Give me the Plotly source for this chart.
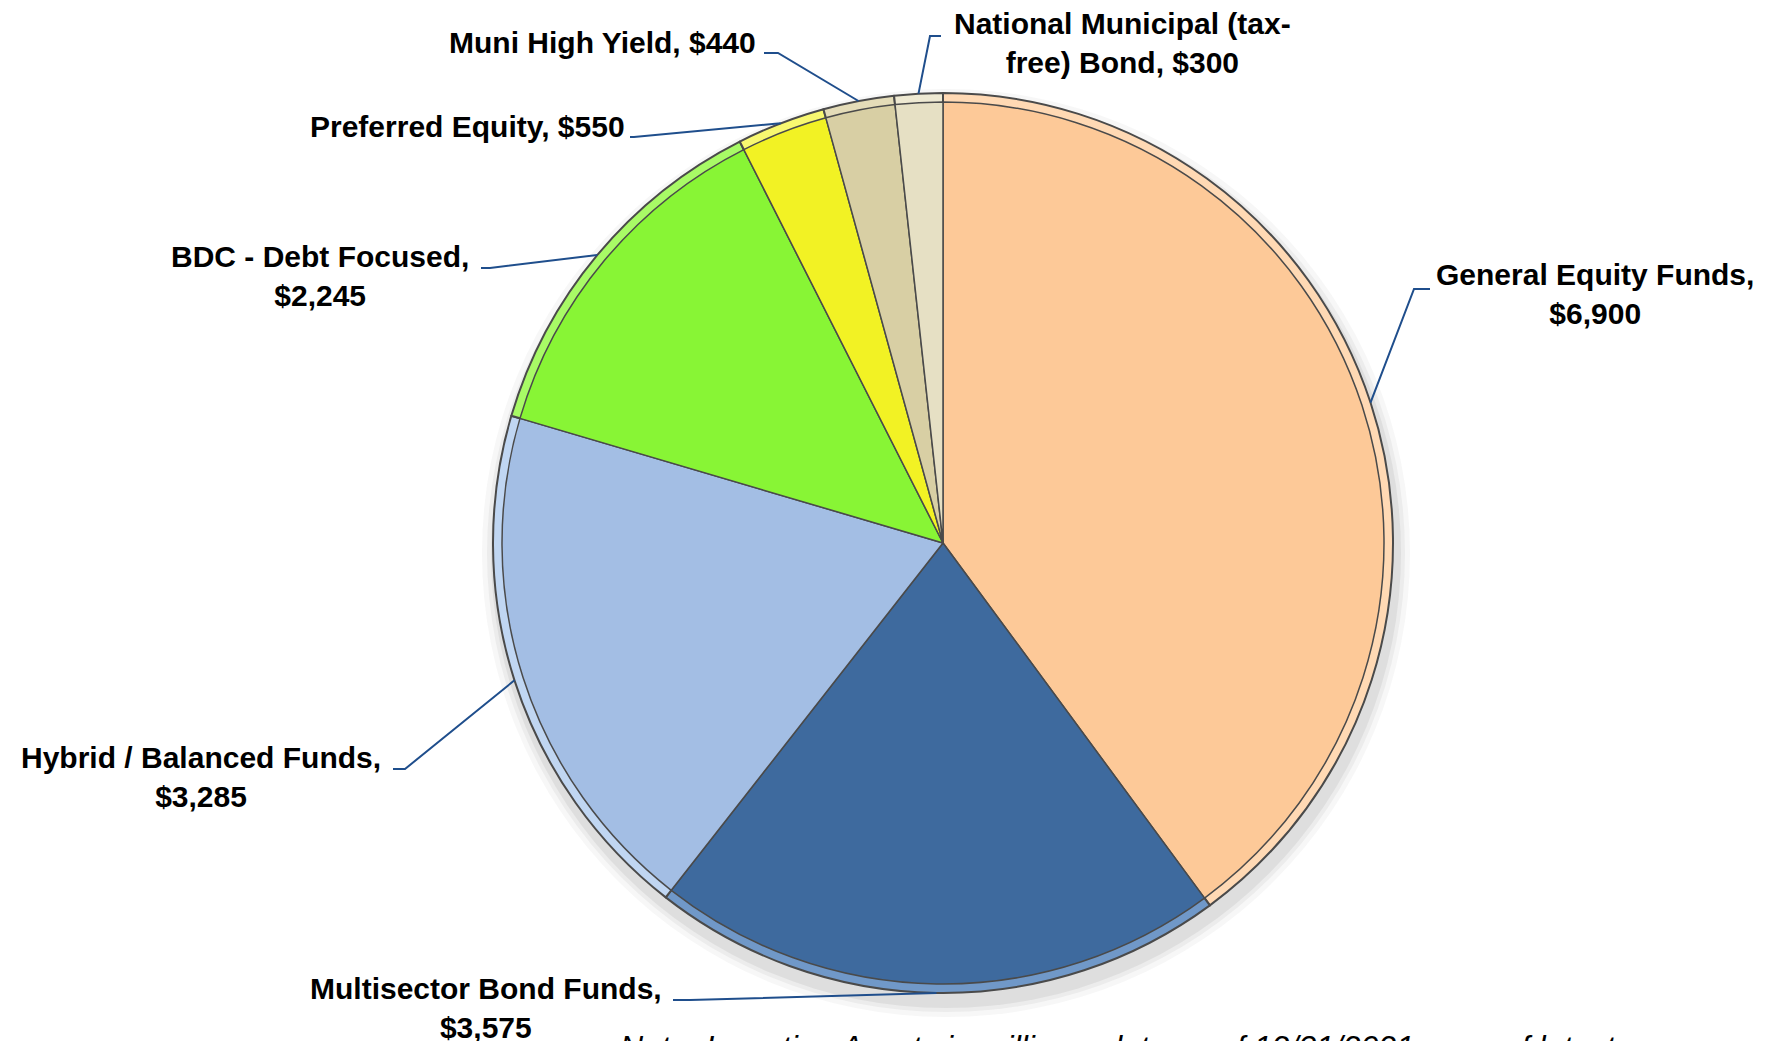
import plotly.graph_objects as go
import math

# Investing assets by fund category ($ millions), clockwise from 12 o'clock
categories = [
    "General Equity Funds",
    "Multisector Bond Funds",
    "Hybrid / Balanced Funds",
    "BDC - Debt Focused",
    "Preferred Equity",
    "Muni High Yield",
    "National Municipal (tax-free) Bond",
]
assets = [6900, 3575, 3285, 2245, 550, 440, 300]
label_text = [
    "General Equity Funds,<br>$6,900",
    "Multisector Bond Funds,<br>$3,575",
    "Hybrid / Balanced Funds,<br>$3,285",
    "BDC - Debt Focused,<br>$2,245",
    "Preferred Equity, $550",
    "Muni High Yield, $440",
    "National Municipal (tax-<br>free) Bond, $300",
]
note_text = "Note: Investing Assets in millions; data as of 12/31/2021 or as of latest"

slice_colors = ["#FDC998", "#3E6A9E", "#A3BEE4", "#88F535",
                "#F2F224", "#D8CFA4", "#E6E0C4"]
rim_colors = ["#FFD9B4", "#7098C8", "#C0D6F2", "#A8FA66",
              "#F8F870", "#E4DCB8", "#EEE9D2"]

W, H = 1774, 1041
CX, CY, R = 943, 543, 450          # pie centre and radius in pixels
RIM = 9                             # bevel band width in pixels

# label placement: (elbow x, elbow y, end x, end y, text x, text y, xanchor)
label_layout = [
    (1414, 289, 1430, 289, 1595, 294, "center"),
    (690, 1000, 673, 1000, 486, 1008, "center"),
    (405, 769, 393, 769, 201, 777, "center"),
    (490, 268, 481, 268, 320, 276, "center"),
    (634, 137, 630, 137, 627, 126, "right"),
    (778, 53, 764, 53, 758, 43, "right"),
    (930, 36, 941, 36, 1122, 43, "center"),
]


def px(x):
    return x / W


def py(y):
    return 1 - y / H


def pie_domain(radius):
    return dict(x=[px(CX - radius), px(CX + radius)],
                y=[py(CY + radius), py(CY - radius)])


fig = go.Figure()

# soft drop shadow behind the pie
for grow, alpha in [(14, 0.04), (9, 0.06), (5, 0.08)]:
    fig.add_trace(go.Pie(
        values=[1], labels=["shadow"], sort=False, textinfo="none",
        hoverinfo="skip", showlegend=False,
        marker=dict(colors=[f"rgba(60,60,60,{alpha})"], line=dict(width=0)),
        domain=dict(x=[px(CX + 3 - R - grow), px(CX + 3 + R + grow)],
                    y=[py(CY + 10 + R + grow), py(CY + 10 - R - grow)]),
    ))

# outer rim (bevel highlight)
fig.add_trace(go.Pie(
    values=assets, labels=categories, sort=False, direction="clockwise",
    rotation=0, textinfo="none", hoverinfo="skip", showlegend=False,
    marker=dict(colors=rim_colors, line=dict(color="#4A4A4A", width=2)),
    domain=pie_domain(R),
))

# main slices
fig.add_trace(go.Pie(
    values=assets, labels=categories, sort=False, direction="clockwise",
    rotation=0, textinfo="none", showlegend=False,
    hovertemplate="%{label}: $%{value:,}<extra></extra>",
    marker=dict(colors=slice_colors, line=dict(color="#4A4A4A", width=1.5)),
    domain=pie_domain(R - RIM),
))

# leader lines and labels
total = sum(assets)
cum = 0
for value, text, (ex, ey, tx_end, ty_end, lx, ly, anchor) in zip(
        assets, label_text, label_layout):
    theta = math.radians(360 * (cum + value / 2) / total)
    cum += value
    ax = CX + R * math.sin(theta)
    ay = CY - R * math.cos(theta)
    fig.add_shape(
        type="path", xref="paper", yref="paper",
        path=f"M {px(ax)} {py(ay)} L {px(ex)} {py(ey)} L {px(tx_end)} {py(ty_end)}",
        line=dict(color="#1F4E8C", width=2),
    )
    fig.add_annotation(
        x=px(lx), y=py(ly), xref="paper", yref="paper",
        text=f"<b>{text}</b>", showarrow=False,
        xanchor=anchor, yanchor="middle", align="center",
        font=dict(family="Liberation Sans, Arial, sans-serif", size=30, color="black"),
    )

fig.add_annotation(
    x=px(618), y=py(1027), xref="paper", yref="paper",
    text=f"<i>{note_text}</i>", showarrow=False,
    xanchor="left", yanchor="top",
    font=dict(family="Liberation Sans, Arial, sans-serif", size=32, color="black"),
)

fig.update_layout(
    width=W, height=H,
    margin=dict(l=0, r=0, t=0, b=0),
    paper_bgcolor="white", plot_bgcolor="white",
    showlegend=False,
)

fig.write_html("out.html")
